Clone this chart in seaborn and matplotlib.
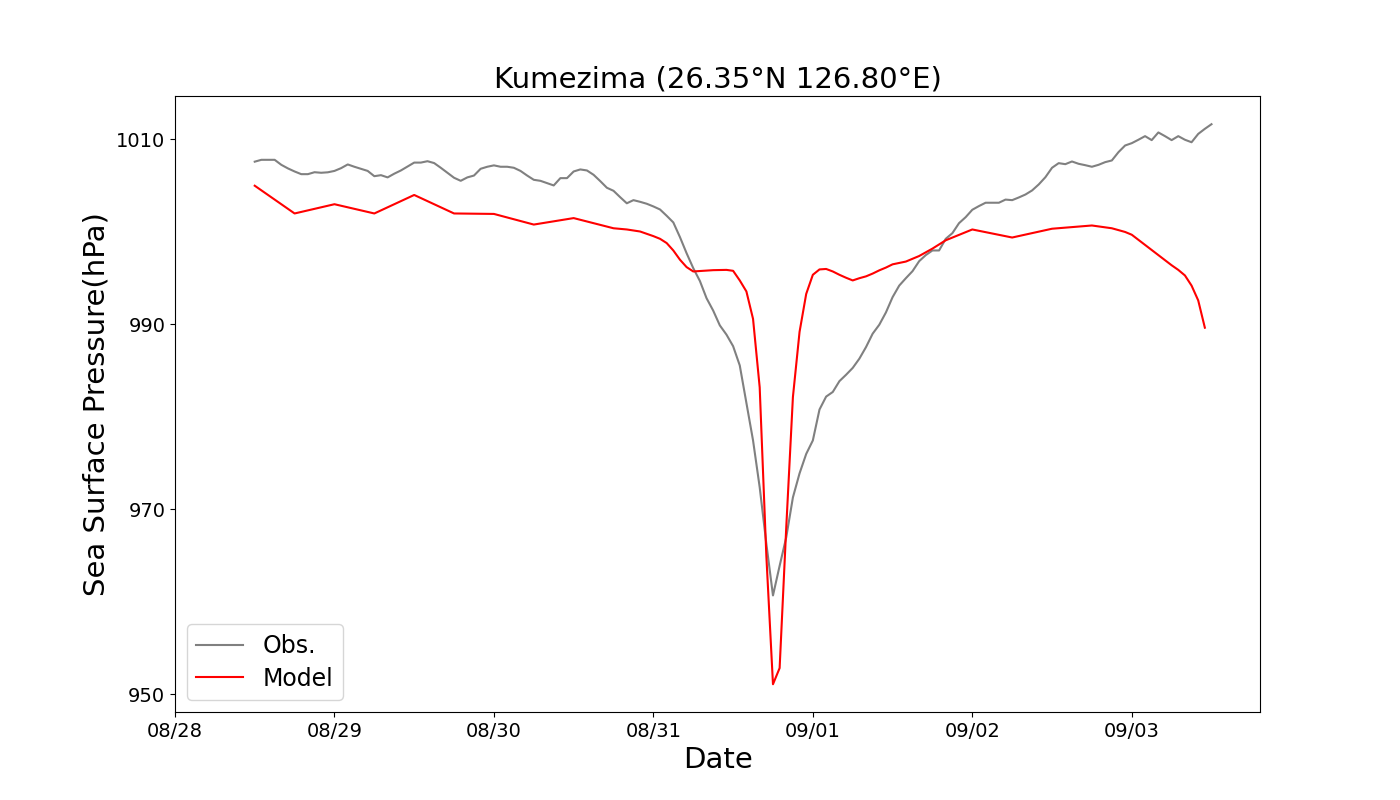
import pandas as pd
import matplotlib.pyplot as plt
import matplotlib.dates as mdates
import seaborn as sns

# hourly observed pressure starting 08/28 12:00
obs_pressure = [
    1007.6, 1007.8, 1007.8, 1007.8, 1007.26, 1006.87, 1006.54, 1006.25, 1006.25, 1006.46,
    1006.4, 1006.45, 1006.6, 1006.9, 1007.3, 1007.05, 1006.83, 1006.6, 1006.03, 1006.14,
    1005.9, 1006.3, 1006.65, 1007.08, 1007.5, 1007.5, 1007.65, 1007.45, 1006.94, 1006.4,
    1005.86, 1005.53, 1005.9, 1006.1, 1006.83, 1007.05, 1007.2, 1007.05, 1007.05, 1006.94,
    1006.6, 1006.1, 1005.64, 1005.53, 1005.28, 1005.03, 1005.82, 1005.82, 1006.54, 1006.76,
    1006.65, 1006.18, 1005.5, 1004.78, 1004.45, 1003.76, 1003.1, 1003.44, 1003.26, 1003.05,
    1002.76, 1002.43, 1001.75, 1001.03, 999.44, 997.7, 996.09, 994.7, 992.84, 991.5,
    989.9, 988.9, 987.65, 985.57, 981.5, 977.46, 972.4, 966.3, 960.7, 963.9,
    967.0, 971.3, 973.9, 976.0, 977.46, 980.8, 982.2, 982.7, 983.87, 984.56,
    985.3, 986.3, 987.55, 989.0, 989.97, 991.3, 992.95, 994.2, 995.0, 995.76,
    996.84, 997.5, 998.0, 998.0, 999.26, 999.87, 1000.95, 1001.6, 1002.4, 1002.8,
    1003.16, 1003.16, 1003.16, 1003.5, 1003.44, 1003.73, 1004.05, 1004.49, 1005.14, 1005.92,
    1006.94, 1007.44, 1007.33, 1007.62, 1007.37, 1007.22, 1007.05, 1007.26, 1007.55, 1007.73,
    1008.63, 1009.35, 1009.6, 1009.97, 1010.36, 1009.93, 1010.76, 1010.36, 1009.93, 1010.36,
    1009.97, 1009.7, 1010.6, 1011.15, 1011.65,
]

# model output, hours since 08/28 12:00
model_hours = [
    0, 6, 12, 18, 24, 30, 36, 42, 48, 54, 56, 58, 59, 60, 61, 62, 63, 64, 65, 66, 69, 71, 72,
    73, 74, 75, 76, 77, 78, 79, 80, 81, 82, 83, 84, 85, 86, 87, 88, 89, 90, 91, 92,
    93, 94, 95, 96, 98, 100, 102, 104, 108, 114, 120, 126, 127, 128, 129, 130, 131, 132,
    138, 139, 140, 141, 142, 143,
]
model_pressure = [
    1005.0, 1002.0, 1003.0, 1002.0, 1004.0, 1002.0, 1001.95, 1000.8, 1001.5, 1000.4,
    1000.27, 1000.05, 999.8, 999.55, 999.26, 998.8, 998.0, 997.0, 996.2, 995.73, 995.87, 995.9, 995.8,
    994.76, 993.57, 990.6, 983.2, 965.0, 951.1, 952.85, 968.1, 982.15, 989.2,
    993.3, 995.37, 995.95, 996.0, 995.73, 995.37, 995.05, 994.76, 995.0, 995.2,
    995.5, 995.85, 996.15, 996.5, 996.8, 997.4, 998.2, 999.1, 1000.27, 999.4,
    1000.35, 1000.7, 1000.6, 1000.5, 1000.4, 1000.2, 1000.0, 999.7,
    996.4, 995.9, 995.3, 994.2, 992.6, 989.65,
]

start = pd.Timestamp("2018-08-28 12:00")
obs_df = pd.DataFrame({
    "date": pd.date_range(start, periods=len(obs_pressure), freq="h"),
    "pressure": obs_pressure,
})
model_df = pd.DataFrame({
    "date": start + pd.to_timedelta(model_hours, unit="h"),
    "pressure": model_pressure,
})

fig, ax = plt.subplots(figsize=(14, 8))
sns.lineplot(data=obs_df, x="date", y="pressure", color="gray", label="Obs.", ax=ax)
sns.lineplot(data=model_df, x="date", y="pressure", color="red", label="Model", ax=ax)

ax.set_xlim(pd.Timestamp("2018-08-28"), pd.Timestamp("2018-08-28") + pd.Timedelta(hours=163.3))
ax.set_ylim(948.1, 1014.7)
ax.set_yticks([950, 970, 990, 1010])
ax.xaxis.set_major_locator(mdates.DayLocator())
ax.xaxis.set_major_formatter(mdates.DateFormatter("%m/%d"))
ax.tick_params(labelsize=14)

ax.set_title("Kumezima (26.35°N 126.80°E)", fontsize=21)
ax.set_xlabel("Date", fontsize=21)
ax.set_ylabel("Sea Surface Pressure(hPa)", fontsize=21)
ax.legend(loc="lower left", fontsize=17, labelspacing=0.38)

plt.savefig("out.png", dpi=100)
plt.close()
